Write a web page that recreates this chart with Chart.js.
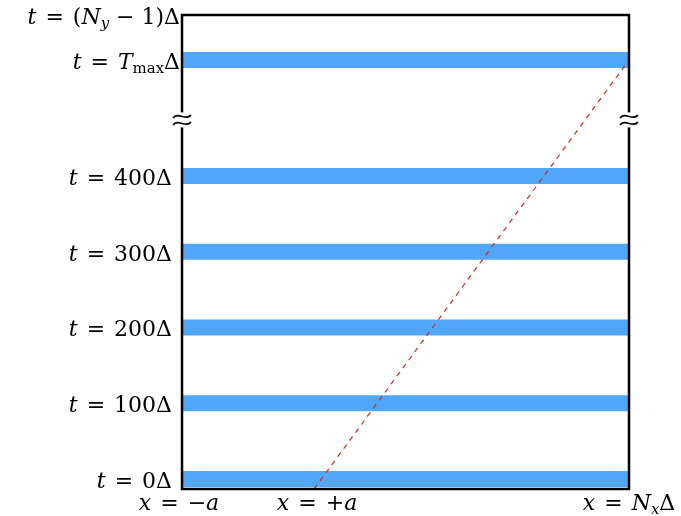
<!DOCTYPE html>
<html>
<head>
<meta charset="utf-8">
<script src="https://cdn.jsdelivr.net/npm/chart.js@4/dist/chart.umd.min.js"></script>
<style>
  html, body { margin: 0; padding: 0; background: #fff; }
  #wrap { width: 681px; height: 516px; position: relative; }
</style>
</head>
<body>
<div id="wrap"><canvas id="grid-chart"></canvas></div>
<script>
// time levels (in units of Delta)
const tickTimes = [0, 100, 200, 300, 400];
const tMax = 553;        // T_max row, above the axis break
const tTop = 612.5;      // (N_y - 1) row, top of the box
const tBottom = -13.2;   // bottom edge of the box
const tBreak = 474;      // where the axis is broken
// x positions (in units of a)
const xLeft = -1;        // x = -a
const xPlusA = 1;        // x = +a
const xRight = 5.77;     // x = N_x Delta

const bandColor = '#52a6f8';
const rayColor = '#d22a1c';
const FONT = '"DejaVu Serif", serif';

const bandTimes = tickTimes.concat([tMax]);

const datasets = bandTimes.map(t => ({
    data: [{ x: xLeft, y: t }, { x: xRight, y: t }],
    borderColor: bandColor,
    borderWidth: 16,
    borderCapStyle: 'butt',
    pointRadius: 0,
    order: 2
}));
datasets.push({
    data: [{ x: xPlusA, y: tBottom }, { x: xRight, y: tMax }],
    borderColor: rayColor,
    borderWidth: 1.2,
    borderDash: [5, 5],
    pointRadius: 0,
    order: 1
});

// text pieces: { s, i (italic), sub (subscript), pad (extra px each side) }
function segFont(g, size) {
    const sz = g.sub ? size * 0.68 : size;
    return (g.i ? 'italic ' : '') + sz + 'px ' + FONT;
}
function richWidth(ctx, segs, size) {
    let w = 0;
    segs.forEach(g => {
        ctx.font = segFont(g, size);
        w += ctx.measureText(g.s).width + 2 * (g.pad || 0);
    });
    return w;
}
function drawRich(ctx, segs, x, y, align, size) {
    const w = richWidth(ctx, segs, size);
    let cx = align === 'right' ? x - w : align === 'center' ? x - w / 2 : x;
    ctx.fillStyle = '#000';
    ctx.textBaseline = 'alphabetic';
    ctx.textAlign = 'left';
    segs.forEach(g => {
        ctx.font = segFont(g, size);
        cx += g.pad || 0;
        ctx.fillText(g.s, cx, g.sub ? y + 4 : y);
        cx += ctx.measureText(g.s).width + (g.pad || 0);
    });
}

const EQ = { s: ' = ', pad: 2 };

const framePlugin = {
    id: 'frame',
    afterDatasetsDraw(chart) {
        const ctx = chart.ctx;
        const a = chart.chartArea;
        const xs = chart.scales.x, ys = chart.scales.y;
        ctx.save();
        // box
        ctx.strokeStyle = '#000';
        ctx.lineWidth = 2.5;
        ctx.strokeRect(a.left, a.top, a.right - a.left, a.bottom - a.top);
        // axis break
        const yb = ys.getPixelForValue(tBreak);
        [a.left, a.right].forEach(px => {
            ctx.fillStyle = '#fff';
            ctx.fillRect(px - 3, yb - 7.5, 6, 15);
            ctx.lineWidth = 1.6;
            [-3.5, 3.5].forEach(d => {
                const yy = yb + d;
                ctx.beginPath();
                ctx.moveTo(px - 9, yy + 1.5);
                ctx.bezierCurveTo(px - 4, yy - 5, px + 4, yy + 5, px + 9, yy - 1.5);
                ctx.stroke();
            });
        });
        // left labels
        const size = 22;
        tickTimes.forEach(t => {
            drawRich(ctx, [{ s: 't', i: 1 }, EQ, { s: t + 'Δ' }],
                a.left - 10, ys.getPixelForValue(t) + 9, 'right', size);
        });
        drawRich(ctx, [{ s: 't', i: 1 }, EQ, { s: 'T', i: 1 }, { s: 'max', sub: 1 }, { s: 'Δ' }],
            a.left - 2, ys.getPixelForValue(tMax) + 9, 'right', size);
        drawRich(ctx, [{ s: 't', i: 1 }, EQ, { s: '(' }, { s: 'N', i: 1 }, { s: 'y', i: 1, sub: 1 }, { s: ' − 1)Δ' }],
            a.left - 2, ys.getPixelForValue(tTop) + 9, 'right', size);
        // bottom labels
        const yl = a.bottom + 21;
        drawRich(ctx, [{ s: 'x', i: 1 }, EQ, { s: '−' }, { s: 'a', i: 1 }],
            xs.getPixelForValue(xLeft) - 3, yl, 'center', size);
        drawRich(ctx, [{ s: 'x', i: 1 }, EQ, { s: '+' }, { s: 'a', i: 1 }],
            xs.getPixelForValue(xPlusA) + 3, yl, 'center', size);
        drawRich(ctx, [{ s: 'x', i: 1 }, EQ, { s: 'N', i: 1 }, { s: 'x', i: 1, sub: 1 }, { s: 'Δ' }],
            xs.getPixelForValue(xRight), yl, 'center', size);
        ctx.restore();
    }
};

new Chart(document.getElementById('grid-chart'), {
    type: 'line',
    data: { datasets: datasets },
    options: {
        responsive: true,
        maintainAspectRatio: false,
        animation: false,
        layout: { padding: { left: 182, right: 52, top: 15, bottom: 27 } },
        plugins: { legend: { display: false }, tooltip: { enabled: false } },
        scales: {
            x: { type: 'linear', min: xLeft, max: xRight, display: false },
            y: { type: 'linear', min: tBottom, max: tTop, display: false }
        }
    },
    plugins: [framePlugin]
});
</script>
</body>
</html>
